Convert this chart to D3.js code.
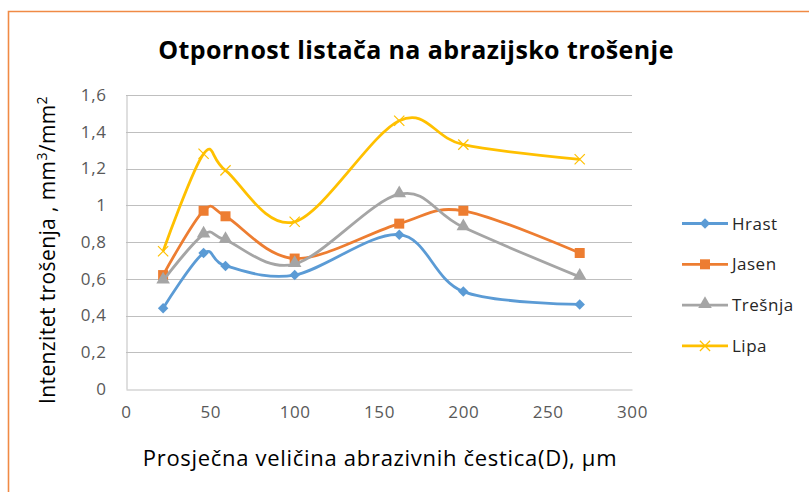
<!DOCTYPE html>
<html>
<head>
<meta charset="utf-8">
<script src="https://cdn.jsdelivr.net/npm/d3@7"></script>
<style>
  html, body { margin: 0; padding: 0; background: #fff; }
  svg { display: block; }
</style>
</head>
<body>
<svg id="chart" width="809" height="492"></svg>
<script>
// Average abrasive particle size (µm) and wear intensity per wood species
const particleSize = [22, 46, 59, 100, 162, 200, 269];
const hrast   = [0.44, 0.74, 0.67, 0.62, 0.84, 0.53, 0.46];
const jasen   = [0.62, 0.97, 0.94, 0.71, 0.90, 0.97, 0.74];
const tresnja = [0.59, 0.84, 0.81, 0.68, 1.06, 0.88, 0.61];
const lipa    = [0.75, 1.28, 1.19, 0.91, 1.46, 1.33, 1.25];

const seriesNames = ["Hrast", "Jasen", "Trešnja", "Lipa"];
const xTicks = [0, 50, 100, 150, 200, 250, 300];
const yTicks = [0, 0.2, 0.4, 0.6, 0.8, 1, 1.2, 1.4, 1.6];

const titleText = "Otpornost listača na abrazijsko trošenje";
const xTitle = "Prosječna veličina abrazivnih čestica(D), µm";

const series = [
  { name: seriesNames[0], values: hrast,   color: "#5B9BD5", marker: "diamond" },
  { name: seriesNames[1], values: jasen,   color: "#ED7D31", marker: "square" },
  { name: seriesNames[2], values: tresnja, color: "#A5A5A5", marker: "triangle" },
  { name: seriesNames[3], values: lipa,    color: "#FFC000", marker: "cross" }
];

const FONT = "'Open Sans', 'Noto Sans', sans-serif";
const svg = d3.select("#chart");

// outer frame (top and left edges)
svg.append("path")
  .attr("d", "M8.5,492 L8.5,11.5 L809,11.5")
  .attr("fill", "none")
  .attr("stroke", "#F08A45")
  .attr("stroke-width", 1.6);

const plot = { left: 126, right: 632, top: 95, bottom: 389 };

const x = d3.scaleLinear().domain([0, 300]).range([plot.left, plot.right]);
const y = d3.scaleLinear().domain([0, 1.6]).range([plot.bottom, plot.top]);

// horizontal gridlines
svg.append("g")
  .selectAll("line")
  .data(yTicks.filter(d => d > 0))
  .join("line")
  .attr("x1", plot.left).attr("x2", plot.right)
  .attr("y1", d => Math.round(y(d)) + 0.5).attr("y2", d => Math.round(y(d)) + 0.5)
  .attr("stroke", "#BFBFBF")
  .attr("stroke-width", 1);

// y axis
const yAxis = svg.append("g")
  .attr("transform", `translate(${plot.left + 0.5},0)`)
  .call(d3.axisLeft(y).tickValues(yTicks).tickSize(0).tickPadding(20)
    .tickFormat(d => d3.format("")(+d.toFixed(1)).replace(".", ",")));
yAxis.select(".domain").attr("stroke", "#BFBFBF");
yAxis.selectAll("text")
  .attr("font-family", FONT).attr("font-size", 17).attr("letter-spacing", 0.6)
  .attr("fill", "#595959");

// x axis
const xAxis = svg.append("g")
  .attr("transform", `translate(0,${plot.bottom + 0.5})`)
  .call(d3.axisBottom(x).tickValues(xTicks).tickSize(0).tickPadding(16)
    .tickFormat(d3.format("d")));
xAxis.select(".domain").attr("stroke", "#BFBFBF");
xAxis.selectAll("text")
  .attr("font-family", FONT).attr("font-size", 17).attr("letter-spacing", 0.6)
  .attr("fill", "#595959");

// smoothed series lines
const line = d3.line()
  .x((d, i) => x(particleSize[i]))
  .y(d => y(d))
  .curve(d3.curveCardinal.tension(0));

const markerPath = {
  diamond: d3.symbol().type(d3.symbolDiamond2).size(70)(),
  square: d3.symbol().type(d3.symbolSquare).size(100)(),
  triangle: d3.symbol().type(d3.symbolTriangle).size(80)(),
  cross: d3.symbol().type(d3.symbolX).size(70)()
};

function drawMarker(g, s) {
  const p = g.append("path").attr("d", markerPath[s.marker]);
  if (s.marker === "cross") {
    p.attr("fill", "none").attr("stroke", s.color).attr("stroke-width", 1.2);
  } else if (s.marker === "triangle") {
    p.attr("fill", s.color).attr("transform", "translate(0,-1)");
  } else {
    p.attr("fill", s.color);
  }
  return p;
}

series.forEach(s => {
  svg.append("path")
    .datum(s.values)
    .attr("d", line)
    .attr("fill", "none")
    .attr("stroke", s.color)
    .attr("stroke-width", 2.8)
    .attr("stroke-linejoin", "round");

  const pts = svg.append("g");
  s.values.forEach((v, i) => {
    const g = pts.append("g").attr("transform", `translate(${x(particleSize[i])},${y(v)})`);
    drawMarker(g, s);
  });
});

// title
svg.append("text")
  .attr("x", 416).attr("y", 59)
  .attr("text-anchor", "middle")
  .attr("font-family", FONT).attr("font-weight", 700).attr("font-size", 25)
  .attr("letter-spacing", 0.4)
  .attr("fill", "#000")
  .text(titleText);

// x axis title
svg.append("text")
  .attr("x", 380).attr("y", 466)
  .attr("text-anchor", "middle")
  .attr("font-family", FONT).attr("font-size", 22)
  .attr("letter-spacing", 0.7)
  .attr("fill", "#000")
  .text(xTitle);

// y axis title with superscripts
const yt = svg.append("text")
  .attr("transform", "translate(55,250) rotate(-90)")
  .attr("text-anchor", "middle")
  .attr("font-family", FONT).attr("font-size", 21)
  .attr("letter-spacing", 0.4)
  .attr("fill", "#000");
yt.append("tspan").text("Intenzitet trošenja ,  mm");
yt.append("tspan").attr("dy", -8).attr("font-size", 14).text("3");
yt.append("tspan").attr("dy", 8).text("/mm");
yt.append("tspan").attr("dy", -8).attr("font-size", 14).text("2");

// legend
const legend = svg.append("g");
series.forEach((s, i) => {
  const ly = 223.5 + i * 40.8;
  const g = legend.append("g").attr("transform", `translate(0,${ly})`);
  g.append("line")
    .attr("x1", 682).attr("x2", 728)
    .attr("y1", 0).attr("y2", 0)
    .attr("stroke", s.color).attr("stroke-width", 2.8);
  const m = g.append("g").attr("transform", "translate(705,0)");
  drawMarker(m, s);
  g.append("text")
    .attr("x", 732).attr("y", 6)
    .attr("font-family", FONT).attr("font-size", 17)
    .attr("letter-spacing", 0.5)
    .attr("fill", "#262626")
    .text(s.name);
});
</script>
</body>
</html>
